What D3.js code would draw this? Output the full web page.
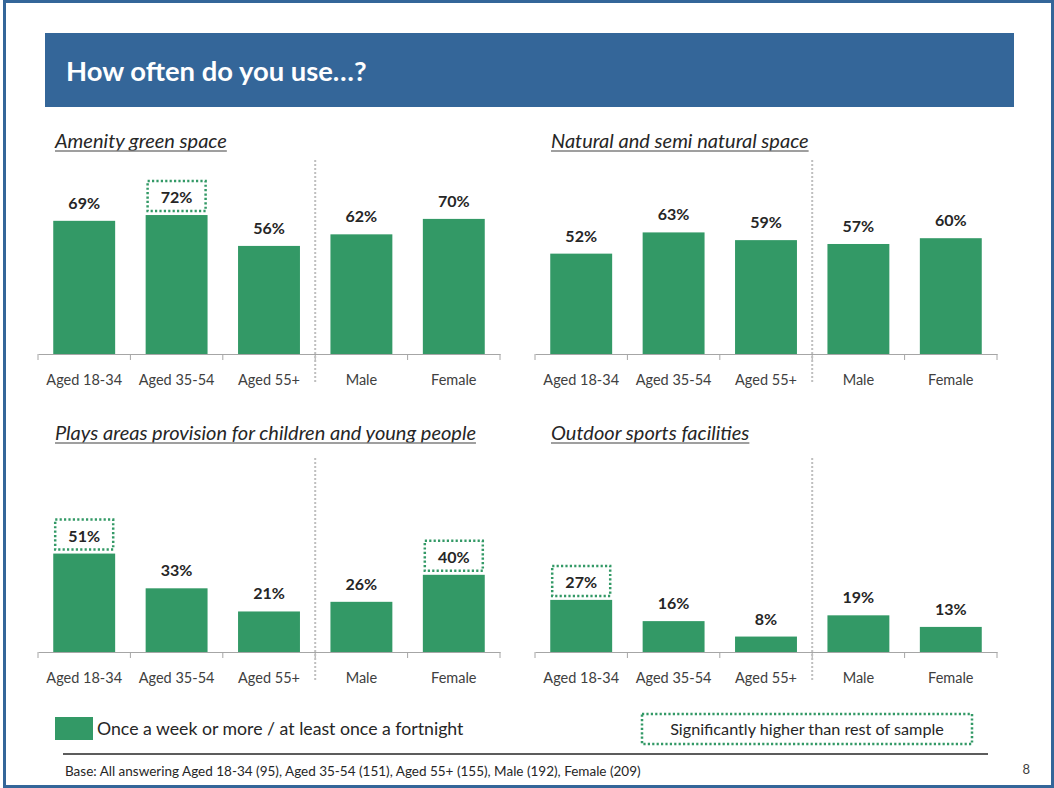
<!DOCTYPE html>
<html>
<head>
<meta charset="utf-8">
<script src="https://cdn.jsdelivr.net/npm/d3@7/dist/d3.min.js"></script>
<style>
  html, body { margin: 0; padding: 0; background: #fff; }
  svg { display: block; }
  text { font-family: Lato, "Open Sans", sans-serif; }
</style>
</head>
<body>
<svg id="chart" width="1054" height="788"></svg>
<script>
// Survey groups shown on every panel
const categories = ["Aged 18-34", "Aged 35-54", "Aged 55+", "Male", "Female"];

// Panel headings
const panelTitles = [
  "Amenity green space",
  "Natural and semi natural space",
  "Plays areas provision for children and young people",
  "Outdoor sports facilities"
];

// Share using each facility once a week or more / at least once a fortnight (%)
const amenityValues = [69, 72, 56, 62, 70];
const naturalValues = [52, 63, 59, 57, 60];
const playValues    = [51, 33, 21, 26, 40];
const sportsValues  = [27, 16, 8, 19, 13];

// Groups significantly higher than the rest of the sample
const amenitySig = [false, true, false, false, false];
const naturalSig = [false, false, false, false, false];
const playSig    = [true, false, false, false, true];
const sportsSig  = [true, false, false, false, false];

const GREEN = "#339966";
const BLUE = "#346699";

const svg = d3.select("#chart");

// page frame
svg.append("rect")
  .attr("x", 4.5).attr("y", 1.5)
  .attr("width", 1048).attr("height", 785)
  .attr("fill", "none").attr("stroke", BLUE).attr("stroke-width", 3);

// heading bar
svg.append("rect")
  .attr("x", 45).attr("y", 33).attr("width", 969).attr("height", 74)
  .attr("fill", BLUE);
svg.append("text")
  .attr("x", 66).attr("y", 81)
  .attr("fill", "#fff").attr("font-size", 27.4).attr("font-weight", 700)
  .text("How often do you use\u2026?");

const panels = [
  { title: panelTitles[0], values: amenityValues, sig: amenitySig, x0: 38,  x1: 500, base: 354, titleX: 55,  titleY: 148 },
  { title: panelTitles[1], values: naturalValues, sig: naturalSig, x0: 535, x1: 997, base: 354, titleX: 551, titleY: 148 },
  { title: panelTitles[2], values: playValues,    sig: playSig,    x0: 38,  x1: 500, base: 652, titleX: 55,  titleY: 440 },
  { title: panelTitles[3], values: sportsValues,  sig: sportsSig,  x0: 535, x1: 997, base: 652, titleX: 551, titleY: 440 }
];

panels.forEach(p => {
  const g = svg.append("g");
  const data = categories.map((c, i) => ({ cat: c, value: p.values[i], sig: p.sig[i] }));

  const x = d3.scaleBand()
    .domain(categories)
    .range([p.x0, p.x1])
    .paddingInner(0.33)
    .paddingOuter(0.165);

  const y = d3.scaleLinear().domain([0, 100]).range([p.base, p.base - 193]);

  // panel heading (italic, underlined)
  const t = g.append("text")
    .attr("x", p.titleX).attr("y", p.titleY)
    .attr("font-size", 20).attr("font-style", "italic")
    .attr("fill", "#262626")
    .text(p.title);
  const tw = t.node().getComputedTextLength();
  g.append("line")
    .attr("x1", p.titleX).attr("x2", p.titleX + tw)
    .attr("y1", p.titleY + 3).attr("y2", p.titleY + 3)
    .attr("stroke", "#7f7f7f").attr("stroke-width", 1.3);

  // bars
  g.selectAll("rect.bar").data(data).join("rect")
    .attr("class", "bar")
    .attr("x", d => x(d.cat))
    .attr("width", x.bandwidth())
    .attr("y", d => y(d.value))
    .attr("height", d => y(0) - y(d.value))
    .attr("fill", GREEN);

  // value labels
  g.selectAll("text.val").data(data).join("text")
    .attr("class", "val")
    .attr("x", d => x(d.cat) + x.bandwidth() / 2)
    .attr("y", d => y(d.value) - 12)
    .attr("text-anchor", "middle")
    .attr("font-size", 16).attr("font-weight", 700)
    .attr("fill", "#262626")
    .text(d => d.value + "%");

  // dotted boxes around significant results
  g.selectAll("rect.sig").data(data.filter(d => d.sig)).join("rect")
    .attr("class", "sig")
    .attr("x", d => x(d.cat) + x.bandwidth() / 2 - 29)
    .attr("y", d => y(d.value) - 34)
    .attr("width", 58).attr("height", 30)
    .attr("fill", "none")
    .attr("stroke", GREEN).attr("stroke-width", 2.5)
    .attr("stroke-dasharray", "2.2,2.2");

  // category axis
  const axis = g.append("g")
    .attr("transform", `translate(0,${p.base})`)
    .call(d3.axisBottom(x).tickSize(0).tickPadding(21));
  axis.select(".domain").attr("stroke", "#a6a6a6").attr("stroke-width", 1);
  axis.selectAll("text")
    .attr("font-family", "Lato, sans-serif")
    .attr("font-size", 14.5).attr("fill", "#404040");

  // tick marks on the band boundaries
  const bounds = d3.range(categories.length + 1).map(i => p.x0 + i * x.step());
  g.selectAll("line.tick").data(bounds).join("line")
    .attr("class", "tick")
    .attr("x1", d => d).attr("x2", d => d)
    .attr("y1", p.base).attr("y2", p.base + 6)
    .attr("stroke", "#a6a6a6").attr("stroke-width", 1);

  // divider between age and gender groups
  const dx = p.x0 + 3 * x.step();
  g.append("line")
    .attr("x1", dx).attr("x2", dx)
    .attr("y1", p.base - 194).attr("y2", p.base + 30)
    .attr("stroke", "#bfbfbf").attr("stroke-width", 2)
    .attr("stroke-dasharray", "2,2");
});

// legend
svg.append("rect")
  .attr("x", 55).attr("y", 717).attr("width", 38).attr("height", 23)
  .attr("fill", GREEN);
svg.append("text")
  .attr("x", 97).attr("y", 735)
  .attr("font-size", 17.7).attr("fill", "#262626")
  .text("Once a week or more / at least once a fortnight");

svg.append("rect")
  .attr("x", 642).attr("y", 714).attr("width", 330).attr("height", 30)
  .attr("fill", "none")
  .attr("stroke", GREEN).attr("stroke-width", 2.5)
  .attr("stroke-dasharray", "2.2,2.2");
svg.append("text")
  .attr("x", 807).attr("y", 735)
  .attr("text-anchor", "middle")
  .attr("font-size", 16.2).attr("fill", "#262626")
  .text("Significantly higher than rest of sample");

// footer
svg.append("line")
  .attr("x1", 63).attr("x2", 988).attr("y1", 754).attr("y2", 754)
  .attr("stroke", "#262626").attr("stroke-width", 1.5);
svg.append("text")
  .attr("x", 65).attr("y", 776)
  .attr("font-size", 13.5).attr("fill", "#262626")
  .text("Base: All answering Aged 18-34 (95), Aged 35-54 (151), Aged 55+ (155), Male (192), Female (209)");
svg.append("text")
  .attr("x", 1030).attr("y", 774)
  .attr("text-anchor", "end")
  .attr("font-size", 13).attr("fill", "#404040")
  .text("8");
</script>
</body>
</html>
